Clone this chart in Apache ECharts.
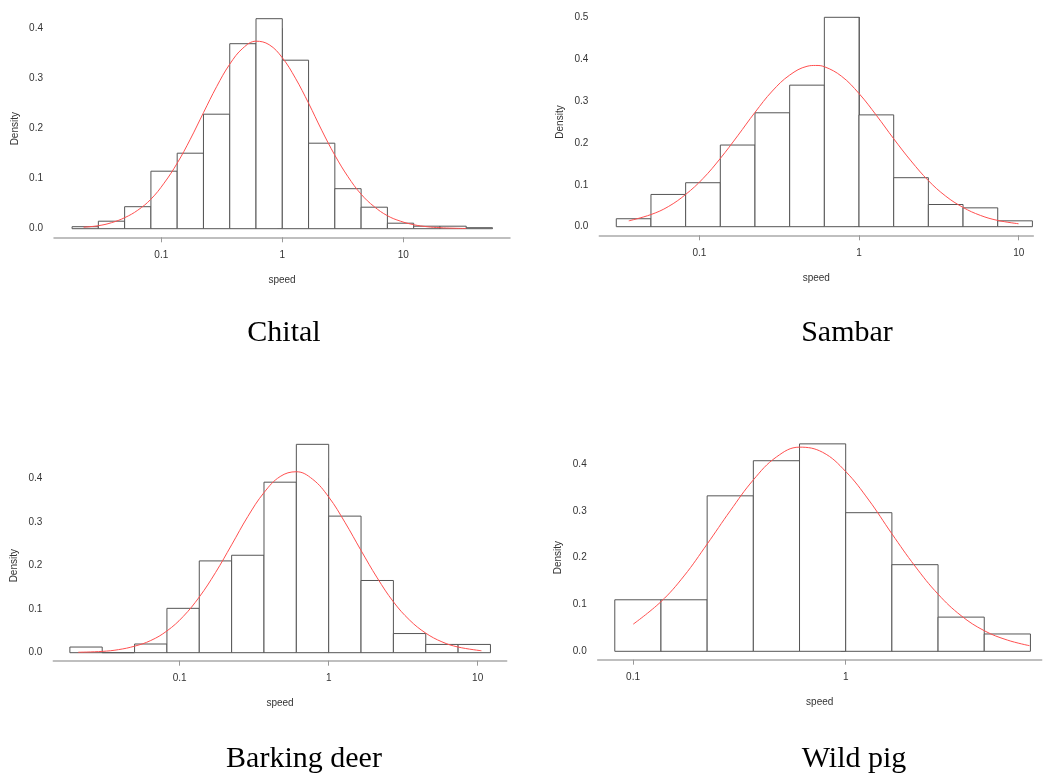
<!DOCTYPE html>
<html>
<head>
<meta charset="utf-8">
<style>
  html, body { margin: 0; padding: 0; background: #fff; }
  #chart { width: 1049px; height: 779px; }
</style>
<script src="https://cdn.jsdelivr.net/npm/echarts@6/dist/echarts.min.js"></script>
</head>
<body>
<div id="chart"></div>
<script>
// Histograms of ln(speed), bins of width 0.5 on the natural-log scale,
// with a fitted density curve drawn over each one.

// Speed tick positions and their labels
const speedTicks = [0.1, 1, 10];
const speedTickLabels = ['0.1', '1', '10'];

// Chital
const chitalEdges = [-4, -3.5, -3, -2.5, -2, -1.5, -1, -0.5, 0, 0.5, 1, 1.5, 2, 2.5, 3, 3.5, 4];
const chitalDensity = [0.004, 0.015, 0.044, 0.115, 0.151, 0.229, 0.370, 0.420, 0.337, 0.171, 0.080, 0.043, 0.011, 0.005, 0.005, 0.002];
const chitalCurveX = [-3.78, -3.5, -3.25, -3, -2.75, -2.5, -2.25, -2, -1.75, -1.5, -1.25, -1, -0.75, -0.5, -0.25, 0, 0.25, 0.5, 0.75, 1, 1.25, 1.5, 1.75, 2, 2.25, 2.5, 2.75, 3, 3.25, 3.5];
const chitalCurveY = [0.003, 0.006, 0.012, 0.022, 0.037, 0.059, 0.091, 0.131, 0.179, 0.232, 0.284, 0.329, 0.361, 0.375, 0.368, 0.342, 0.301, 0.251, 0.197, 0.147, 0.104, 0.069, 0.044, 0.026, 0.015, 0.008, 0.004, 0.002, 0.001, 0.0004];

// Sambar
const sambarEdges = [-3.5, -3, -2.5, -2, -1.5, -1, -0.5, 0, 0.5, 1, 1.5, 2, 2.5];
const sambarDensity = [0.019, 0.077, 0.105, 0.195, 0.272, 0.338, 0.500, 0.267, 0.117, 0.053, 0.045, 0.014];
const sambarCurveX = [-3.32, -3, -2.75, -2.5, -2.25, -2, -1.75, -1.5, -1.25, -1, -0.75, -0.625, -0.5, -0.25, 0, 0.25, 0.5, 0.75, 1, 1.25, 1.5, 1.75, 2, 2.3];
const sambarCurveY = [0.014, 0.029, 0.048, 0.077, 0.115, 0.163, 0.217, 0.273, 0.324, 0.362, 0.383, 0.385, 0.382, 0.359, 0.318, 0.266, 0.210, 0.157, 0.110, 0.073, 0.046, 0.027, 0.015, 0.007];

// Barking deer
const barkingEdges = [-4, -3.5, -3, -2.5, -2, -1.5, -1, -0.5, 0, 0.5, 1, 1.5, 2, 2.5];
const barkingDensity = [0.013, 0.000, 0.020, 0.102, 0.211, 0.224, 0.392, 0.479, 0.314, 0.166, 0.044, 0.019, 0.019];
const barkingCurveX = [-3.87, -3.5, -3.25, -3, -2.75, -2.5, -2.25, -2, -1.75, -1.5, -1.25, -1, -0.75, -0.5, -0.25, 0, 0.25, 0.5, 0.75, 1, 1.25, 1.5, 1.75, 2, 2.36];
const barkingCurveY = [0.001, 0.003, 0.007, 0.015, 0.028, 0.050, 0.083, 0.128, 0.184, 0.248, 0.313, 0.368, 0.405, 0.416, 0.399, 0.358, 0.300, 0.235, 0.172, 0.117, 0.075, 0.045, 0.025, 0.013, 0.0045];

// Wild pig
const pigEdges = [-2.5, -2, -1.5, -1, -0.5, 0, 0.5, 1, 1.5, 2];
const pigDensity = [0.110, 0.110, 0.332, 0.407, 0.443, 0.296, 0.185, 0.073, 0.037];
const pigCurveX = [-2.3, -2, -1.75, -1.5, -1.25, -1, -0.75, -0.5, -0.25, 0, 0.25, 0.5, 0.75, 1, 1.25, 1.5, 1.75, 1.99];
const pigCurveY = [0.058, 0.106, 0.161, 0.229, 0.300, 0.366, 0.415, 0.436, 0.425, 0.384, 0.323, 0.251, 0.182, 0.122, 0.076, 0.044, 0.024, 0.012];

const panelTitles = ['Chital', 'Sambar', 'Barking deer', 'Wild pig'];

const panels = [
  { edges: chitalEdges, dens: chitalDensity, cx: chitalCurveX, cy: chitalCurveY,
    grid: { left: 54, top: 28.7, width: 456, height: 200 }, xMin: -4.344, xMax: 4.333, yMax: 0.4, offset: 8.6,
    title: [284, 333] },
  { edges: sambarEdges, dens: sambarDensity, cx: sambarCurveX, cy: sambarCurveY,
    grid: { left: 599.3, top: 17.3, width: 434, height: 209.4 }, xMin: -3.745, xMax: 2.513, yMax: 0.5, offset: 8.6,
    title: [847, 333] },
  { edges: barkingEdges, dens: barkingDensity, cx: barkingCurveX, cy: barkingCurveY,
    grid: { left: 53.3, top: 478.7, width: 453.4, height: 174 }, xMin: -4.256, xMax: 2.751, yMax: 0.4, offset: 8,
    title: [304, 759] },
  { edges: pigEdges, dens: pigDensity, cx: pigCurveX, cy: pigCurveY,
    grid: { left: 597.7, top: 464, width: 444, height: 187.3 }, xMin: -2.685, xMax: 2.122, yMax: 0.4, offset: 8.4,
    title: [854, 759] }
];

const lnTicks = speedTicks.map(Math.log);
function speedLabel(v) {
  for (let i = 0; i < lnTicks.length; i++) {
    if (Math.abs(lnTicks[i] - v) < 1e-6) return speedTickLabels[i];
  }
  return '';
}

const sansFont = 'Liberation Sans, Arial, sans-serif';
const grids = [], xAxes = [], yAxes = [], series = [], graphics = [];

panels.forEach((p, i) => {
  grids.push(Object.assign({ containLabel: false }, p.grid));

  xAxes.push({
    type: 'value', gridIndex: i, min: p.xMin, max: p.xMax, position: 'bottom', offset: p.offset,
    name: 'speed', nameLocation: 'middle', nameGap: 38,
    nameTextStyle: { fontFamily: sansFont, fontSize: 10, color: '#333' },
    axisLine: { show: true, onZero: false, lineStyle: { color: '#aaa', width: 1.5 } },
    axisTick: { show: true, length: 5, customValues: lnTicks, lineStyle: { color: '#999' } },
    axisLabel: { customValues: lnTicks, formatter: speedLabel, margin: 13,
      fontFamily: sansFont, fontSize: 10, color: '#333' },
    splitLine: { show: false }
  });

  yAxes.push({
    type: 'value', gridIndex: i, min: 0, max: p.yMax, interval: 0.1,
    name: 'Density', nameLocation: 'middle', nameGap: 34,
    nameTextStyle: { fontFamily: sansFont, fontSize: 10, color: '#333' },
    axisLine: { show: true, lineStyle: { color: '#777', width: 1 } },
    axisTick: { show: true, length: 5, lineStyle: { color: '#777' } },
    axisLabel: { formatter: v => v.toFixed(1), margin: 11, fontFamily: sansFont, fontSize: 10, color: '#333' },
    splitLine: { show: false }
  });

  const bins = p.dens.map((d, k) => [p.edges[k], p.edges[k + 1], d]);
  series.push({
    type: 'custom', xAxisIndex: i, yAxisIndex: i, data: bins, clip: false, z: 2,
    renderItem: function (params, api) {
      const topLeft = api.coord([api.value(0), api.value(2)]);
      const botRight = api.coord([api.value(1), 0]);
      return {
        type: 'rect',
        shape: { x: topLeft[0], y: topLeft[1], width: botRight[0] - topLeft[0], height: botRight[1] - topLeft[1] },
        style: { fill: '#fff', stroke: '#555', lineWidth: 1 }
      };
    }
  });

  series.push({
    type: 'line', xAxisIndex: i, yAxisIndex: i, smooth: 0.4, symbol: 'none', clip: false, z: 3,
    data: p.cx.map((x, k) => [x, p.cy[k]]),
    lineStyle: { color: '#ff5050', width: 1 }
  });

  graphics.push({
    type: 'text', x: p.title[0], y: p.title[1],
    style: { text: panelTitles[i], fontFamily: 'Liberation Serif, Times New Roman, serif', fontSize: 30,
      fill: '#000', align: 'center', verticalAlign: 'middle' }
  });
});

const chart = echarts.init(document.getElementById('chart'), null, { renderer: 'canvas' });
chart.setOption({
  animation: false,
  backgroundColor: '#fff',
  grid: grids,
  xAxis: xAxes,
  yAxis: yAxes,
  series: series,
  graphic: graphics
});
</script>
</body>
</html>
